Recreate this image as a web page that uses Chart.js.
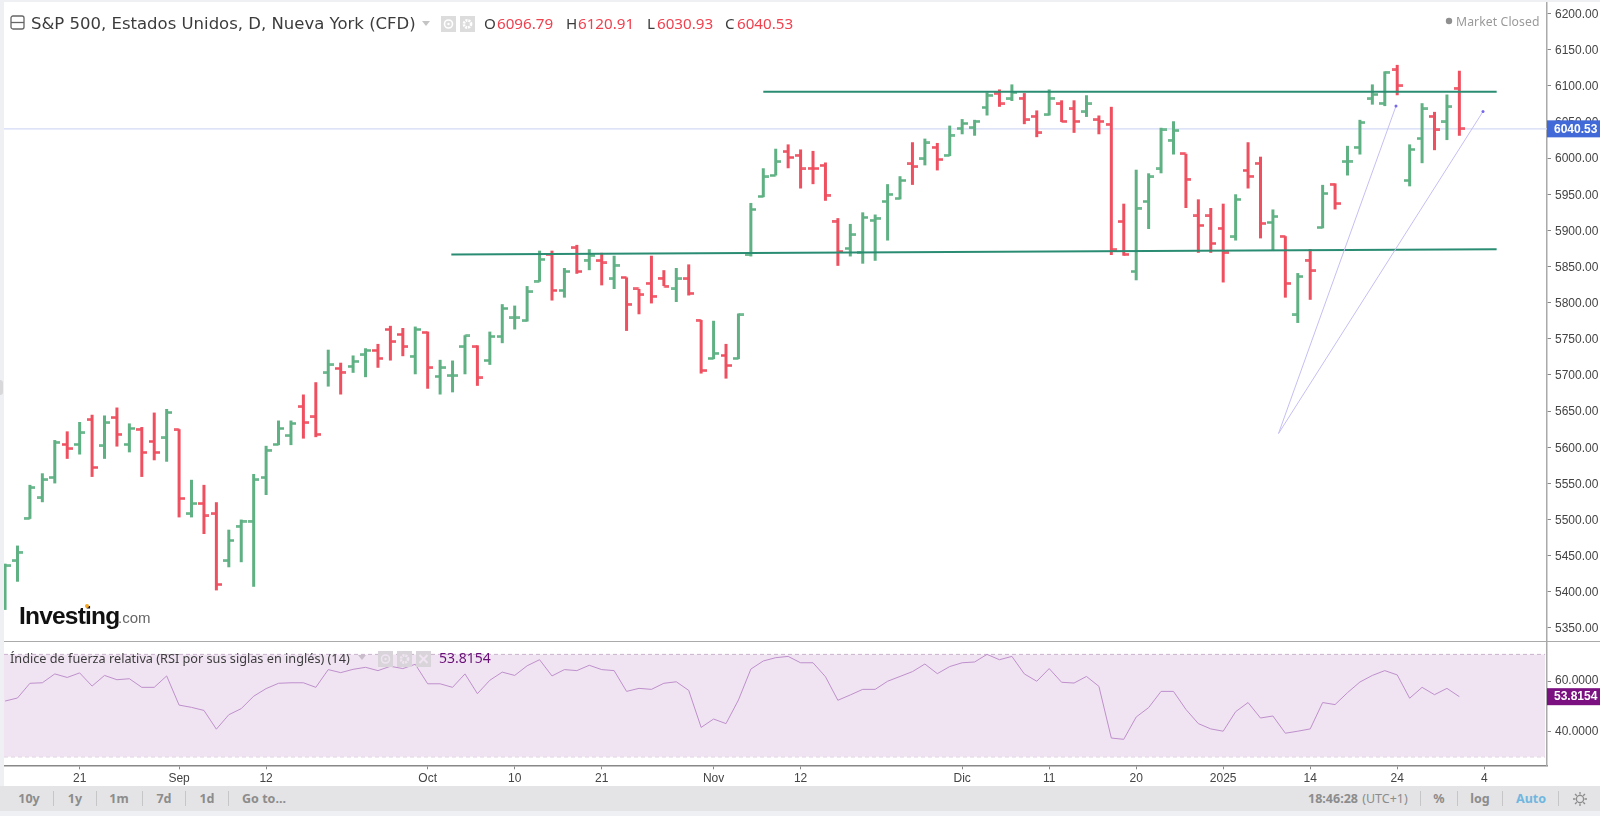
<!DOCTYPE html>
<html lang="es">
<head>
<meta charset="utf-8">
<title>S&amp;P 500</title>
<script src="https://cdn.jsdelivr.net/npm/chart.js@4"></script>
<style>
html,body{margin:0;padding:0;width:1600px;height:816px;overflow:hidden;background:#eef0f4;}
#panel{position:absolute;left:4px;top:2px;width:1596px;height:784px;background:#fff;}
canvas{position:absolute;display:block;}
.t{position:absolute;white-space:nowrap;line-height:20px;height:20px;}
.h{font-family:"Noto Sans",sans-serif;font-size:15.2px;color:#3c3c3c;top:13px;}
.r{color:#f0414f;}
.tb{font-family:"Noto Sans",sans-serif;font-size:12.5px;font-weight:700;color:#8c8c8c;top:788.7px;transform:translateX(-50%);}
.sep{position:absolute;top:791px;width:1px;height:15px;background:#c6c6c8;}
.ib{position:absolute;display:block;}
</style>
</head>
<body>
<div id="panel"></div>
<canvas id="main" width="1596" height="639" style="left:4px;top:2px"></canvas>
<canvas id="rsi" width="1596" height="145" style="left:4px;top:641px"></canvas>
<div style="position:absolute;left:4px;top:640.5px;width:1596px;height:1.5px;background:#aaa"></div>
<div style="position:absolute;left:0;top:380px;width:3px;height:15px;background:#d8d8da;border-radius:0 3px 3px 0"></div>
<div style="position:absolute;left:0;top:786px;width:1600px;height:25px;background:#e4e4e6"></div>

<svg class="ib" style="left:10px;top:15px" width="15" height="15"><rect x="1" y="1" width="13" height="13" rx="2" fill="none" stroke="#666" stroke-width="1.3"/><line x1="1" y1="7.5" x2="14" y2="7.5" stroke="#666" stroke-width="1.3"/></svg>
<div class="t h" style="left:31px;top:14px;font-family:'DejaVu Sans',sans-serif;font-size:16.5px">S&amp;P 500, Estados Unidos, D, Nueva York (CFD)</div>
<svg class="ib" style="left:422px;top:21px" width="9" height="6"><path d="M0 0H8L4 5Z" fill="#c4c4c4"/></svg>
<svg class="ib" style="left:441px;top:16px" width="15" height="16"><rect width="15" height="16" fill="#dcdcdc"/><circle cx="7.5" cy="8" r="4" fill="none" stroke="#fff" stroke-width="1.6"/><circle cx="7.5" cy="8" r="1.2" fill="#fff"/></svg>
<svg class="ib" style="left:460px;top:16px" width="15" height="16"><rect width="15" height="16" fill="#dcdcdc"/><circle cx="7.5" cy="8" r="3.6" fill="none" stroke="#fff" stroke-width="2.6" stroke-dasharray="2 0.9"/><circle cx="7.5" cy="8" r="1.4" fill="#dcdcdc"/></svg>
<div class="t h" style="left:484px">O</div><div class="t h r" style="left:497px">6096.79</div>
<div class="t h" style="left:566px">H</div><div class="t h r" style="left:578px">6120.91</div>
<div class="t h" style="left:647px">L</div><div class="t h r" style="left:657px">6030.93</div>
<div class="t h" style="left:725px">C</div><div class="t h r" style="left:737px">6040.53</div>
<svg class="ib" style="left:1445px;top:17px" width="8" height="8"><circle cx="4" cy="4" r="3.2" fill="#8f8f8f"/></svg>
<div class="t" style="left:1456px;top:12px;font:12.2px/20px 'Noto Sans',sans-serif;letter-spacing:0.1px;color:#9a9a9a">Market Closed</div>

<div class="t" style="left:19px;top:604px;font:700 24.5px/24px 'Liberation Sans',sans-serif;letter-spacing:-0.8px;color:#111;height:24px">Investing</div>
<div class="t" style="left:118px;top:608px;font:15px/20px 'Liberation Sans',sans-serif;color:#666">.com</div>
<div style="position:absolute;left:85px;top:604px;width:4px;height:4px;border-radius:2px;background:#f5a623"></div>

<div class="t" style="left:10px;top:648px;font:12.7px/20px 'Noto Sans',sans-serif;color:#3c3c3c">Índice de fuerza relativa (RSI por sus siglas en inglés) (14)</div>
<svg class="ib" style="left:358px;top:655px" width="9" height="6"><path d="M0 0H8L4 5Z" fill="#c9bccb"/></svg>
<svg class="ib" style="left:378px;top:650.5px" width="15" height="16"><rect width="15" height="16" fill="#d8d4d9"/><circle cx="7.5" cy="8" r="4" fill="none" stroke="#f0e4f2" stroke-width="1.6"/><circle cx="7.5" cy="8" r="1.2" fill="#f0e4f2"/></svg>
<svg class="ib" style="left:397px;top:650.5px" width="15" height="16"><rect width="15" height="16" fill="#d8d4d9"/><circle cx="7.5" cy="8" r="3.6" fill="none" stroke="#f0e4f2" stroke-width="2.6" stroke-dasharray="2 0.9"/></svg>
<svg class="ib" style="left:416px;top:650.5px" width="15" height="16"><rect width="15" height="16" fill="#d8d4d9"/><path d="M3.5 4L11.5 12M11.5 4L3.5 12" stroke="#f0e4f2" stroke-width="2"/></svg>
<div class="t" style="left:439px;top:648px;font:14px/20px 'Noto Sans',sans-serif;color:#6b0f78">53.8154</div>

<div class="t tb" style="left:29px">10y</div><div class="sep" style="left:53px"></div>
<div class="t tb" style="left:75px">1y</div><div class="sep" style="left:96px"></div>
<div class="t tb" style="left:119px">1m</div><div class="sep" style="left:142px"></div>
<div class="t tb" style="left:164px">7d</div><div class="sep" style="left:185px"></div>
<div class="t tb" style="left:207px">1d</div><div class="sep" style="left:228px"></div>
<div class="t tb" style="left:264px">Go to...</div>
<div class="t tb" style="left:1333px">18:46:28</div>
<div class="t tb" style="left:1385px;font-weight:400">(UTC+1)</div><div class="sep" style="left:1420px"></div>
<div class="t tb" style="left:1439px">%</div><div class="sep" style="left:1457px"></div>
<div class="t tb" style="left:1480px">log</div><div class="sep" style="left:1502px"></div>
<div class="t tb" style="left:1531px;color:#6fb7e0">Auto</div><div class="sep" style="left:1558px"></div>
<svg class="ib" style="left:1572px;top:791px" width="16" height="16"><circle cx="8" cy="8" r="3.6" fill="none" stroke="#8c8c8c" stroke-width="1.3"/><path d="M8 1V3.5M8 12.5V15M1 8H3.5M12.5 8H15M3 3L4.8 4.8M11.2 11.2L13 13M13 3L11.2 4.8M4.8 11.2L3 13" stroke="#8c8c8c" stroke-width="1.3"/></svg>

<script>
const categories = [
'08-13','08-14','08-15','08-16','08-19','08-20','08-21','08-22','08-23','08-26','08-27','08-28','08-29','08-30',
'09-03','09-04','09-05','09-06','09-09','09-10','09-11','09-12','09-13','09-16','09-17','09-18','09-19','09-20','09-23','09-24','09-25','09-26','09-27','09-30',
'10-01','10-02','10-03','10-04','10-07','10-08','10-09','10-10','10-11','10-14','10-15','10-16','10-17','10-18','10-21','10-22','10-23','10-24','10-25','10-28','10-29','10-30','10-31',
'11-01','11-04','11-05','11-06','11-07','11-08','11-11','11-12','11-13','11-14','11-15','11-18','11-19','11-20','11-21','11-22','11-25','11-26','11-27','11-29',
'12-02','12-03','12-04','12-05','12-06','12-09','12-10','12-11','12-12','12-13','12-16','12-17','12-18','12-19','12-20','12-23','12-24','12-26','12-27','12-30','12-31',
'01-02','01-03','01-06','01-07','01-08','01-10','01-13','01-14','01-15','01-16','01-17','01-21','01-22','01-23','01-24','01-27','01-28','01-29','01-30','01-31',
'02-03','02-04','02-05','02-06','02-07','02-10','02-11'];

const opens = [5381,5443,5502,5530,5558,5604,5604,5638,5602,5641,5604,5625,5608,5613,5624,5508,5522,5508,5443,5491,
5498,5558,5604,5616,5656,5642,5703,5709,5712,5728,5734,5763,5756,5726,5759,5698,5699,5739,5739,5720,
5753,5779,5775,5830,5867,5817,5876,5859,5858,5833,5835,5819,5827,5834,5819,5833,5776,5723,5727,5723,
5866,5947,5976,6009,6004,5986,5990,5913,5875,5870,5914,5940,5944,5992,5999,6015,6004,6041,6042,6070,
6090,6082,6083,6058,6060,6075,6068,6064,6053,6047,5912,5843,5940,5985,6025,6006,5920,5920,5903,5891,
5983,5993,5911,5892,5783,5859,5904,5964,5995,6015,6082,6076,6122,5969,6027,6058,6050,6096.79];

const highs = [5439,5464,5548,5564,5610,5622,5635,5645,5644,5655,5633,5628,5648,5653,5625,5555,5548,5524,5486,5500,
5563,5602,5637,5637,5673,5690,5735,5717,5727,5737,5743,5768,5765,5767,5760,5721,5720,5755,5741,5760,
5798,5796,5823,5872,5872,5848,5880,5874,5869,5865,5835,5819,5865,5845,5848,5853,5776,5775,5743,5785,
5938,5986,6013,6019,6012,6010,5994,5917,5909,5925,5922,5964,5975,6022,6027,6021,6045,6054,6053,6091,
6095,6102,6090,6066,6095,6080,6080,6087,6059,6071,5937,5984,5979,6042,6051,6006,5943,5931,5937,5950,
6022,6002,5929,5892,5841,5874,5963,5965,6017,6053,6102,6120,6129,6019,6076,6064,6088,6120.91];

const lows = [5375,5414,5501,5524,5550,5584,5590,5559,5584,5601,5593,5559,5582,5580,5503,5503,5480,5402,5434,5441,
5407,5534,5603,5603,5612,5614,5684,5673,5703,5697,5710,5720,5726,5701,5681,5673,5676,5701,5685,5714,
5744,5763,5774,5829,5803,5807,5840,5845,5824,5819,5761,5784,5799,5823,5801,5810,5702,5722,5695,5722,
5864,5946,5976,5986,5958,5964,5941,5851,5864,5854,5858,5886,5943,5963,5990,5983,6003,6033,6031,6059,
6071,6079,6047,6029,6059,6050,6035,6057,6033,5866,5865,5831,5902,5979,6005,5931,5869,5869,5828,5886,
5958,5889,5872,5807,5772,5804,5903,5929,5976,6005,6074,6072,6087,5961,5993,6011,6025,6030.93];

const closes = [5436,5455,5544,5555,5607,5598,5620,5572,5634,5618,5626,5593,5593,5648,5529,5522,5505,5410,5471,5498,
5555,5596,5626,5633,5634,5618,5714,5704,5719,5734,5723,5746,5739,5763,5710,5710,5699,5754,5696,5753,
5792,5779,5815,5860,5817,5843,5843,5865,5855,5852,5798,5811,5809,5823,5833,5813,5706,5730,5713,5783,
5929,5974,5995,6001,5985,5985.5,5949,5871,5894,5918,5917,5950,5969,5988,6021,5998,6032,6048,6051,6087,
6075,6091,6053,6035,6083,6051,6051,6075,6051,5873,5867,5931,5974,6039,6038,5971,5907,5882,5869,5943,
5975,5910,5919,5827,5836,5844,5951,5937,5996,6049,6088,6119,6100,6012,6068,6039,6071,6040.53];

const rsiValues = [52.1,53.3,59.1,59.3,62.8,61.4,63.2,58,62.2,60.5,60.9,57.5,57.5,62,50.5,49.6,48.4,41,46.7,49.1,
54,57,59.1,59.3,59.3,57.5,64.5,63.3,64.6,65.4,64.1,65.8,64.9,66.6,58.9,58.9,57.5,62.8,55,60.3,
63.5,62.2,66,68.4,62,64.5,64.1,66.2,64.5,64.1,55.9,57.1,56.7,59.1,59.7,56.3,41.7,45,43.2,52.5,
64.7,67.9,69.2,69.7,67.2,67.2,61.7,52.4,54.5,56.7,56.7,59.9,61.8,63.7,66.7,62.9,65.7,67.2,67.5,70.5,
68.4,69.7,62.8,59.9,64.9,59.5,59.2,61.8,57.9,37.5,37,45.8,49.5,55.9,55.9,48.8,43.2,41.1,40.2,47.9,
51.5,45.4,46.2,39.4,40.2,41.1,51.5,50.7,55.4,59.6,62.2,64.1,62.4,53.2,57.5,54.6,57.1,53.8154];

const timeTickIndex = [6,14,21,34,41,48,57,64,77,84,91,98,105,112,119];
const timeTickText = ['21','Sep','12','Oct','10','21','Nov','12','Dic','11','20','2025','14','24','4'];
const priceTicks = [5350,5400,5450,5500,5550,5600,5650,5700,5750,5800,5850,5900,5950,6000,6050,6100,6150,6200];
const rsiTicks = [40,60];
const lastPrice = 6040.53;
const lastRsi = 53.8154;
const rsiBands = [70.5,30.1];
const resistanceLine = [{x:61.0,y:6092},{x:120.0,y:6092}];
const supportLine = [{x:35.9,y:5866.7},{x:120.0,y:5874}];
const trendLineA = [{x:102.45,y:5619},{x:111.9,y:6072}];
const trendLineB = [{x:102.45,y:5619},{x:118.9,y:6064.5}];

const xMin = -0.086, xMax = 124.05;
const GREEN = '#5fb184', RED = '#ee5060';
const isUp = closes.map((c,i)=>c>=opens[i]);
const barColor = isUp.map(u=>u?GREEN:RED);

function tickImage(color,side){
  const c=document.createElement('canvas');c.width=11;c.height=3;
  const g=c.getContext('2d');g.fillStyle=color;
  g.fillRect(side==='left'?0:5.5,0.25,5.5,2.5);
  return c;
}
const img={lg:tickImage(GREEN,'left'),rg:tickImage(GREEN,'right'),lr:tickImage(RED,'left'),rr:tickImage(RED,'right')};

function badge(value,text,color){
  return {id:'badge',afterDraw(chart){
    const s=chart.scales.y,ctx=chart.ctx,y=s.getPixelForValue(value);
    ctx.save();
    ctx.fillStyle=color;ctx.fillRect(s.left,y-8.5,53,17);
    ctx.fillStyle='#fff';ctx.font='700 12px "Liberation Sans"';
    ctx.textBaseline='middle';ctx.textAlign='left';
    ctx.fillText(text,s.left+7,y+0.5);
    ctx.restore();
  }};
}
const xBase={type:'linear',min:xMin,max:xMax,offset:false};
const fixY=s=>{s.width=53;s.paddingTop=0;s.paddingBottom=0;};
const tickFont={family:'Liberation Sans',size:12};

new Chart(document.getElementById('main'),{
  type:'bar',
  data:{labels:categories,datasets:[
    {type:'line',label:'trend A',data:trendLineA,borderColor:'#c4bff2',borderWidth:1,pointRadius:[0,1.5],pointBackgroundColor:'#7468ee',pointBorderWidth:0,order:0},
    {type:'line',label:'trend B',data:trendLineB,borderColor:'#c4bff2',borderWidth:1,pointRadius:[0,1.5],pointBackgroundColor:'#7468ee',pointBorderWidth:0,order:0},
    {type:'line',label:'resistance',data:resistanceLine,borderColor:'#2a8c72',borderWidth:2,pointRadius:0,order:1},
    {type:'line',label:'support',data:supportLine,borderColor:'#2a8c72',borderWidth:2,pointRadius:0,order:1},
    {type:'scatter',label:'open',data:opens.map((y,x)=>({x,y})),pointStyle:isUp.map(u=>u?img.lg:img.lr),pointRadius:3,pointBorderWidth:0,order:2},
    {type:'scatter',label:'close',data:closes.map((y,x)=>({x,y})),pointStyle:isUp.map(u=>u?img.rg:img.rr),pointRadius:3,pointBorderWidth:0,order:2},
    {type:'bar',label:'high-low',data:highs.map((h,x)=>({x,y:[lows[x],h]})),backgroundColor:barColor,barThickness:3,inflateAmount:0,order:3},
    {type:'line',label:'last',data:[{x:xMin,y:lastPrice},{x:xMax,y:lastPrice}],borderColor:'#d3daf6',borderWidth:1.2,pointRadius:0,order:4}
  ]},
  options:{
    responsive:false,animation:false,events:[],
    layout:{autoPadding:false,padding:0},
    plugins:{legend:{display:false},tooltip:{enabled:false}},
    scales:{
      x:{...xBase,display:false,grid:{offset:false}},
      y:{type:'linear',position:'right',min:5332,max:6216,afterFit:fixY,
        afterBuildTicks:s=>{s.ticks=priceTicks.map(value=>({value}));},
        border:{display:true,color:'#aaa',width:1.5},
        grid:{display:true,drawOnChartArea:false,drawTicks:true,tickLength:4,tickColor:'#888'},
        ticks:{font:tickFont,color:'#444',padding:4,labelOffset:1,autoSkip:false,callback:v=>v.toFixed(2)}}
    }
  },
  plugins:[badge(lastPrice,lastPrice.toFixed(2),'#4169d8')]
});

new Chart(document.getElementById('rsi'),{
  type:'line',
  data:{labels:categories,datasets:[
    {label:'RSI',data:rsiValues.map((y,x)=>({x,y})),borderColor:'#bf90cc',borderWidth:1,pointRadius:0,tension:0,order:0},
    {label:'band top',data:[{x:xMin,y:rsiBands[0]},{x:123.9,y:rsiBands[0]}],borderColor:'#c8b3cc',borderWidth:1,borderDash:[4,3],pointRadius:0,fill:'+1',backgroundColor:'#f0e4f2',order:1},
    {label:'band bottom',data:[{x:xMin,y:rsiBands[1]},{x:123.9,y:rsiBands[1]}],borderColor:'#c8b3cc',borderWidth:1,borderDash:[4,3],pointRadius:0,order:1}
  ]},
  options:{
    responsive:false,animation:false,events:[],
    layout:{autoPadding:false,padding:0},
    plugins:{legend:{display:false},tooltip:{enabled:false}},
    scales:{
      x:{...xBase,afterFit:s=>{s.height=20.7;s.paddingLeft=0;s.paddingRight=0;},
        afterBuildTicks:s=>{s.ticks=timeTickIndex.map(value=>({value}));},
        border:{display:true,color:'#888',width:1.5},
        grid:{display:true,drawOnChartArea:false,drawTicks:true,tickLength:4,tickColor:'#888'},
        ticks:{font:tickFont,color:'#444',padding:2,maxRotation:0,autoSkip:false,
          callback:v=>timeTickText[timeTickIndex.indexOf(v)]}},
      y:{type:'linear',position:'right',min:26.75,max:75.78,afterFit:fixY,
        afterBuildTicks:s=>{s.ticks=rsiTicks.map(value=>({value}));},
        border:{display:true,color:'#aaa',width:1.5},
        grid:{display:true,drawOnChartArea:false,drawTicks:true,tickLength:4,tickColor:'#888'},
        ticks:{font:tickFont,color:'#444',padding:4,autoSkip:false,callback:v=>v.toFixed(4)}}
    }
  },
  plugins:[badge(lastRsi,lastRsi.toFixed(4),'#7b1180')]
});
</script>
</body>
</html>
